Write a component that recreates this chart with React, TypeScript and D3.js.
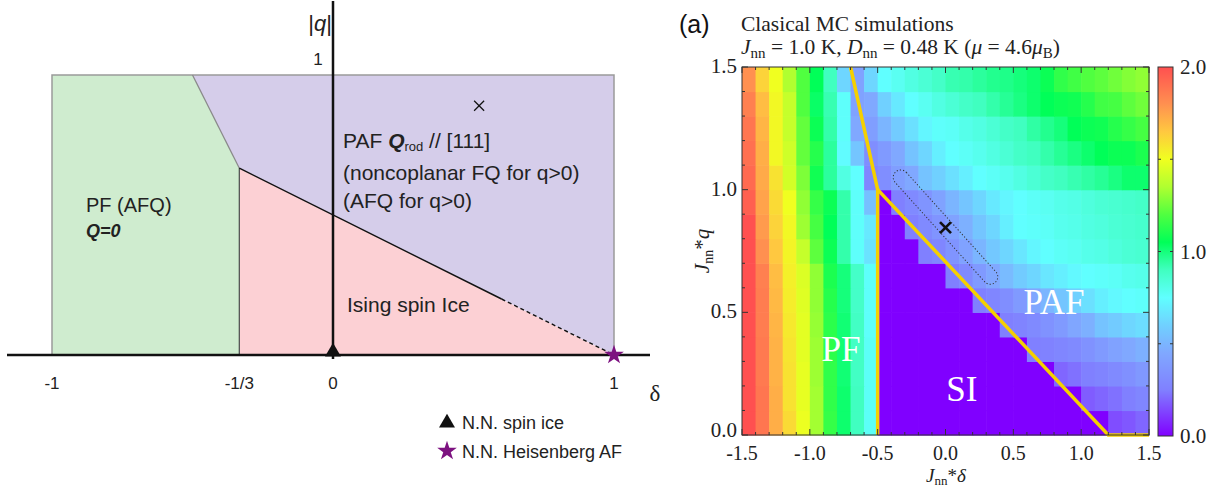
import React from "react";
import * as d3 from "d3";

// ---------- left panel: schematic phase diagram ----------
const deltaTicks = [-1, -1 / 3, 0, 1];
const deltaTickLabels = ["-1", "-1/3", "0", "1"];
const pfRegion = [[-1, 0], [-1 / 3, 0], [-1 / 3, 0.667], [-0.5, 1], [-1, 1]];
const siRegion = [[-1 / 3, 0], [1, 0], [-1 / 3, 0.667]];
const pafRegion = [[-0.5, 1], [-1 / 3, 0.667], [1, 0], [1, 1]];
const pfPafEdge = [[-0.5, 1], [-1 / 3, 0.667]];
const pfSiEdge = [[-1 / 3, 0], [-1 / 3, 0.667]];
const siPafSolid = [[-1 / 3, 0.667], [0.6, 0.2]];
const siPafDashed = [[0.6, 0.2], [1, 0]];
const crossLeft = [0.52, 0.89];
const spinIcePoint = [0, 0];
const heisenbergPoint = [1, 0];

// ---------- right panel: classical MC heat map ----------
const mcDelta = [-1.5, -1.4, -1.3, -1.2, -1.1, -1.0, -0.9, -0.8, -0.7, -0.6, -0.5, -0.4, -0.3, -0.2, -0.1,
  0.0, 0.1, 0.2, 0.3, 0.4, 0.5, 0.6, 0.7, 0.8, 0.9, 1.0, 1.1, 1.2, 1.3, 1.4];
const mcQ = [0.0, 0.1, 0.2, 0.3, 0.4, 0.5, 0.6, 0.7, 0.8, 0.9, 1.0, 1.1, 1.2, 1.3, 1.4];

const q00 = [2.0, 1.88, 1.72, 1.6, 1.49, 1.33, 1.15, 1.02, 0.9, 0.77, 0, 0, 0, 0, 0, 0, 0, 0, 0, 0, 0, 0, 0, 0, 0, 0, 0, 0.15, 0.17, 0.2];
const q01 = [2.0, 1.88, 1.72, 1.58, 1.48, 1.33, 1.14, 1.02, 0.9, 0.77, 0, 0, 0, 0, 0, 0, 0, 0, 0, 0, 0, 0, 0, 0, 0, 0.18, 0.2, 0.22, 0.25, 0.28];
const q02 = [2.0, 1.87, 1.71, 1.58, 1.48, 1.32, 1.14, 1.01, 0.89, 0.77, 0, 0, 0, 0, 0, 0, 0, 0, 0, 0, 0, 0, 0, 0.2, 0.22, 0.25, 0.27, 0.3, 0.33, 0.37];
const q03 = [2.0, 1.87, 1.71, 1.57, 1.47, 1.32, 1.13, 1.01, 0.89, 0.77, 0, 0, 0, 0, 0, 0, 0, 0, 0, 0, 0, 0.25, 0.26, 0.28, 0.3, 0.34, 0.38, 0.42, 0.45, 0.48];
const q04 = [2.0, 1.86, 1.7, 1.56, 1.47, 1.31, 1.13, 1.01, 0.89, 0.76, 0, 0, 0, 0, 0, 0, 0, 0, 0, 0.25, 0.27, 0.3, 0.34, 0.38, 0.44, 0.48, 0.55, 0.58, 0.62, 0.64];
const q05 = [2.0, 1.86, 1.69, 1.55, 1.46, 1.3, 1.12, 1.0, 0.88, 0.76, 0, 0, 0, 0, 0, 0, 0, 0.25, 0.28, 0.32, 0.38, 0.44, 0.5, 0.56, 0.6, 0.65, 0.7, 0.73, 0.75, 0.76];
const q06 = [2.0, 1.85, 1.68, 1.54, 1.45, 1.3, 1.1, 1.0, 0.88, 0.76, 0, 0, 0, 0, 0, 0.25, 0.3, 0.38, 0.45, 0.52, 0.58, 0.62, 0.67, 0.7, 0.73, 0.75, 0.76, 0.77, 0.79, 0.8];
const q07 = [2.0, 1.8, 1.65, 1.53, 1.4, 1.22, 1.07, 0.93, 0.76, 0.66, 0, 0, 0, 0.25, 0.28, 0.35, 0.42, 0.5, 0.57, 0.62, 0.67, 0.72, 0.75, 0.77, 0.78, 0.8, 0.81, 0.83, 0.85, 0.86];
const q08 = [2.0, 1.77, 1.62, 1.52, 1.32, 1.18, 1.05, 0.93, 0.76, 0.68, 0, 0, 0.25, 0.3, 0.35, 0.42, 0.48, 0.56, 0.62, 0.7, 0.75, 0.76, 0.77, 0.79, 0.8, 0.82, 0.83, 0.85, 0.86, 0.87];
const q09 = [1.95, 1.75, 1.6, 1.5, 1.3, 1.15, 1.07, 0.93, 0.76, 0.54, 0, 0.25, 0.3, 0.35, 0.42, 0.5, 0.56, 0.62, 0.68, 0.72, 0.75, 0.77, 0.78, 0.8, 0.81, 0.83, 0.85, 0.86, 0.87, 0.88];
const q10 = [1.92, 1.73, 1.58, 1.43, 1.27, 1.08, 0.95, 0.82, 0.75, 0.28, 0.32, 0.4, 0.45, 0.55, 0.6, 0.65, 0.7, 0.75, 0.77, 0.79, 0.82, 0.85, 0.88, 0.9, 0.92, 0.94, 0.96, 0.99, 1.02, 1.02];
const q11 = [1.9, 1.72, 1.52, 1.42, 1.23, 1.12, 0.95, 0.74, 0.56, 0.32, 0.38, 0.45, 0.55, 0.62, 0.7, 0.75, 0.77, 0.79, 0.82, 0.85, 0.88, 0.9, 0.93, 0.96, 0.99, 1.02, 1.05, 1.07, 1.07, 1.1];
const q12 = [1.88, 1.7, 1.52, 1.4, 1.23, 1.07, 0.93, 0.76, 0.45, 0.4, 0.5, 0.58, 0.65, 0.72, 0.76, 0.77, 0.8, 0.82, 0.85, 0.88, 0.9, 0.94, 0.97, 1.0, 1.05, 1.07, 1.08, 1.12, 1.15, 1.18];
const q13 = [1.85, 1.68, 1.52, 1.4, 1.2, 1.03, 0.92, 0.76, 0.42, 0.45, 0.6, 0.68, 0.75, 0.78, 0.82, 0.85, 0.88, 0.9, 0.93, 0.96, 0.99, 1.02, 1.05, 1.07, 1.08, 1.12, 1.17, 1.18, 1.22, 1.25];
const q14 = [1.8, 1.62, 1.5, 1.35, 1.2, 1.05, 0.9, 0.62, 0.42, 0.62, 0.75, 0.78, 0.82, 0.85, 0.88, 0.92, 0.93, 0.95, 0.97, 0.98, 1.0, 1.02, 1.07, 1.14, 1.17, 1.2, 1.22, 1.25, 1.28, 1.3];
const heatRows = [q00, q01, q02, q03, q04, q05, q06, q07, q08, q09, q10, q11, q12, q13, q14];

const pfBoundary = [[-0.7, 1.5], [-0.5, 1.0], [-0.5, 0]];
const siBoundary = [[-0.5, 1.0], [1.2, 0], [1.5, 0]];
const crossRight = [0.0, 0.845];
const capsuleEnds = [[-0.33, 1.05], [0.33, 0.645]];
const xTickLabels = ["-1.5", "-1.0", "-0.5", "0.0", "0.5", "1.0", "1.5"];
const yTickLabels = ["0.0", "0.5", "1.0", "1.5"];
const barTickLabels = ["0.0", "1.0", "2.0"];

// colour map
const heatStops = [0, 0.25, 0.45, 0.6, 0.75, 0.9, 1.05, 1.2, 1.35, 1.5, 1.65, 1.8, 2.0];
const heatColors = ["#8000ff", "#8080ff", "#80a8ff", "#70d0ff", "#60ffff", "#40ffc0", "#00ff58",
  "#50ff40", "#b0ff30", "#f0ff20", "#ffc840", "#ff9050", "#ff5050"];

const serif = '"Liberation Serif", "Times New Roman", serif';
const sans = '"Liberation Sans", Arial, Helvetica, sans-serif';

export default function App() {
  // left panel scales
  const xL = d3.scaleLinear().domain([-1, 1]).range([52, 614]);
  const yL = d3.scaleLinear().domain([0, 1]).range([355, 75]);
  const lineL = d3.line<number[]>().x((d) => xL(d[0])).y((d) => yL(d[1]));

  // right panel scales
  const xR = d3.scaleLinear().domain([-1.5, 1.5]).range([742, 1149]);
  const yR = d3.scaleLinear().domain([0, 1.5]).range([435, 67]);
  const lineR = d3.line<number[]>().x((d) => xR(d[0])).y((d) => yR(d[1]));
  const color = d3.scaleLinear<string>().domain(heatStops).range(heatColors).interpolate(d3.interpolateRgb).clamp(true);
  const yBar = d3.scaleLinear().domain([0, 2]).range([436, 67]);

  const star = d3.symbol().type(d3.symbolStar).size(120)();
  const tri = d3.symbol().type(d3.symbolTriangle).size(110)();

  const cellW = xR(-1.4) - xR(-1.5);
  const cellH = yR(0) - yR(0.1);

  const xMinor = d3.range(0, 31).map((k) => -1.5 + k * 0.1);
  const yMinor = d3.range(0, 16).map((k) => k * 0.1);

  // capsule around the cross
  const c0 = [xR(capsuleEnds[0][0]), yR(capsuleEnds[0][1])];
  const c1 = [xR(capsuleEnds[1][0]), yR(capsuleEnds[1][1])];
  const capLen = Math.hypot(c1[0] - c0[0], c1[1] - c0[1]);
  const capAng = (Math.atan2(c1[1] - c0[1], c1[0] - c0[0]) * 180) / Math.PI;
  const capR = 7.5;

  const barStops = d3.range(0, 41).map((k) => k * 0.05);

  return (
    <svg width={1213} height={489} style={{ position: "absolute", left: 0, top: 0 }}>
      <defs>
        <linearGradient id="bar" x1="0" y1="1" x2="0" y2="0">
          {barStops.map((v) => (
            <stop key={v} offset={v / 2} stopColor={color(v)} />
          ))}
        </linearGradient>
      </defs>

      {/* ===== left panel ===== */}
      <path d={lineL(pfRegion) + "Z"} fill="#cfeccf" />
      <path d={lineL(siRegion) + "Z"} fill="#fcd0d4" />
      <path d={lineL(pafRegion) + "Z"} fill="#d5cdea" />
      <rect x={xL(-1)} y={yL(1)} width={xL(1) - xL(-1)} height={yL(0) - yL(1)} fill="none" stroke="#9a9a9a" strokeWidth={1.5} />
      <path d={lineL(pfPafEdge)!} stroke="#8a8a8a" strokeWidth={1.3} fill="none" />
      <path d={lineL(pfSiEdge)!} stroke="#555" strokeWidth={1.3} fill="none" />
      <path d={lineL(siPafSolid)!} stroke="#111" strokeWidth={1.4} fill="none" />
      <path d={lineL(siPafDashed)!} stroke="#111" strokeWidth={1.4} strokeDasharray="4,3" fill="none" />
      <line x1={7} x2={650} y1={yL(0)} y2={yL(0)} stroke="#111" strokeWidth={2.5} />
      <line x1={xL(0)} x2={xL(0)} y1={1} y2={yL(0) + 4} stroke="#111" strokeWidth={2.5} />
      <g stroke="#111" strokeWidth={1.3}>
        <line x1={xL(crossLeft[0]) - 5} x2={xL(crossLeft[0]) + 5} y1={yL(crossLeft[1]) - 5} y2={yL(crossLeft[1]) + 5} />
        <line x1={xL(crossLeft[0]) - 5} x2={xL(crossLeft[0]) + 5} y1={yL(crossLeft[1]) + 5} y2={yL(crossLeft[1]) - 5} />
      </g>
      <path d={tri!} transform={`translate(${xL(spinIcePoint[0])},${yL(spinIcePoint[1]) - 3})`} fill="#111" />
      <path d={star!} transform={`translate(${xL(heisenbergPoint[0])},${yL(heisenbergPoint[1])})`} fill="#7d1280" />

      <g fontFamily={sans} fill="#222">
        {deltaTicks.map((d, i) => (
          <text key={i} x={xL(d)} y={389} fontSize={17} textAnchor="middle">{deltaTickLabels[i]}</text>
        ))}
        <text x={318} y={65} fontSize={17} textAnchor="middle">1</text>
        <text x={320} y={31} fontSize={22} textAnchor="middle">|<tspan fontStyle="italic">q</tspan>|</text>
        <text x={86} y={212} fontSize={20}>PF (AFQ)</text>
        <text x={86} y={237} fontSize={18} fontWeight="bold" fontStyle="italic">Q=0</text>
        <text x={343} y={148} fontSize={21}>PAF <tspan fontWeight="bold" fontStyle="italic">Q</tspan><tspan fontSize={13} dy={3}>rod</tspan><tspan dy={-3}> // [111]</tspan></text>
        <text x={343} y={180} fontSize={21}>(noncoplanar FQ for q&gt;0)</text>
        <text x={343} y={208} fontSize={21}>(AFQ for q&gt;0)</text>
        <text x={347} y={312} fontSize={21}>Ising spin Ice</text>
        <text x={655} y={401} fontSize={23} fontFamily={serif} textAnchor="middle">δ</text>
        <path d={tri!} transform="translate(447,423)" fill="#111" />
        <text x={462} y={429} fontSize={18}>N.N. spin ice</text>
        <path d={star!} transform="translate(447,451)" fill="#7d1280" />
        <text x={462} y={458} fontSize={18}>N.N. Heisenberg AF</text>
      </g>

      {/* ===== right panel ===== */}
      <g>
        {heatRows.map((row, j) =>
          row.map((v, i) => (
            <rect
              key={`${j}-${i}`}
              x={xR(mcDelta[i])}
              y={yR(mcQ[j]) - cellH}
              width={cellW + 0.6}
              height={cellH + 0.6}
              fill={color(v)}
            />
          ))
        )}
      </g>
      <path d={lineR(pfBoundary)!} stroke="#f5d000" strokeWidth={3.5} fill="none" />
      <path d={lineR(siBoundary)!} stroke="#f5d000" strokeWidth={3.5} fill="none" />
      <rect
        x={-capR}
        y={-capR}
        width={capLen + 2 * capR}
        height={2 * capR}
        rx={capR}
        transform={`translate(${c0[0]},${c0[1]}) rotate(${capAng})`}
        fill="none"
        stroke="#333"
        strokeWidth={1}
        strokeDasharray="1.2,2"
      />
      <g stroke="#111" strokeWidth={2.6}>
        <line x1={xR(crossRight[0]) - 5.5} x2={xR(crossRight[0]) + 5.5} y1={yR(crossRight[1]) - 5.5} y2={yR(crossRight[1]) + 5.5} />
        <line x1={xR(crossRight[0]) - 5.5} x2={xR(crossRight[0]) + 5.5} y1={yR(crossRight[1]) + 5.5} y2={yR(crossRight[1]) - 5.5} />
      </g>
      <g fontFamily={serif} fill="#fff" fontSize={35}>
        <text x={xR(-0.77)} y={yR(0.3)} textAnchor="middle">PF</text>
        <text x={xR(0.12)} y={yR(0.14)} textAnchor="middle">SI</text>
        <text x={xR(0.8)} y={yR(0.495)} textAnchor="middle">PAF</text>
      </g>

      {/* frame + ticks */}
      <rect x={742} y={67} width={407} height={368} fill="none" stroke="#333" strokeWidth={1} />
      <g stroke="#333" strokeWidth={1}>
        {xMinor.map((d, k) => {
          const len = k % 5 === 0 ? 6 : 3;
          return (
            <g key={`x${k}`}>
              <line x1={xR(d)} x2={xR(d)} y1={435} y2={435 - len} />
              <line x1={xR(d)} x2={xR(d)} y1={67} y2={67 + len} />
            </g>
          );
        })}
        {yMinor.map((d, k) => {
          const len = k % 5 === 0 ? 6 : 3;
          return (
            <g key={`y${k}`}>
              <line x1={742} x2={742 + len} y1={yR(d)} y2={yR(d)} />
              <line x1={1149} x2={1149 - len} y1={yR(d)} y2={yR(d)} />
            </g>
          );
        })}
      </g>
      <g fontFamily={serif} fontSize={21} fill="#222">
        {xTickLabels.map((t) => (
          <text key={t} x={xR(+t)} y={460} fontSize={20} textAnchor="middle">{t}</text>
        ))}
        {yTickLabels.map((t) => (
          <text key={t} x={737} y={yR(+t) + (t === "0.0" ? 2 : 6)} textAnchor="end">{t}</text>
        ))}
        <text x={946} y={482} textAnchor="middle" fontSize={19}>
          <tspan fontStyle="italic">J</tspan><tspan fontSize={13} dy={3}>nn</tspan><tspan dy={-3}>*</tspan><tspan fontStyle="italic">δ</tspan>
        </text>
        <text transform="translate(709,251) rotate(-90)" textAnchor="middle">
          <tspan fontStyle="italic">J</tspan><tspan fontSize={14} dy={4}>nn</tspan><tspan dy={-4}>*</tspan><tspan fontStyle="italic">q</tspan>
        </text>
        <text x={741} y={31} fontSize={21.5}>Clasical MC simulations</text>
        <text x={741} y={54} fontSize={21.5}>
          <tspan fontStyle="italic">J</tspan><tspan fontSize={15} dy={4}>nn</tspan><tspan dy={-4}> = 1.0 K, </tspan>
          <tspan fontStyle="italic">D</tspan><tspan fontSize={15} dy={4}>nn</tspan><tspan dy={-4}> = 0.48 K (</tspan>
          <tspan fontStyle="italic">μ</tspan><tspan> = 4.6</tspan><tspan fontStyle="italic">μ</tspan><tspan fontSize={15} dy={4}>B</tspan><tspan dy={-4}>)</tspan>
        </text>
      </g>
      <text x={679} y={33} fontFamily={sans} fontSize={25} fill="#111">(a)</text>

      {/* colour bar */}
      <rect x={1158} y={yBar(2)} width={15} height={yBar(0) - yBar(2)} fill="url(#bar)" stroke="#333" strokeWidth={1} />
      <g stroke="#333" strokeWidth={1}>
        {[0.5, 1.0, 1.5].map((v) => (
          <g key={v}>
            <line x1={1158} x2={1161} y1={yBar(v)} y2={yBar(v)} />
            <line x1={1173} x2={1170} y1={yBar(v)} y2={yBar(v)} />
          </g>
        ))}
      </g>
      <g fontFamily={serif} fontSize={21} fill="#222">
        {barTickLabels.map((t) => (
          <text key={t} x={1180} y={yBar(+t) + 7}>{t}</text>
        ))}
      </g>
    </svg>
  );
}
